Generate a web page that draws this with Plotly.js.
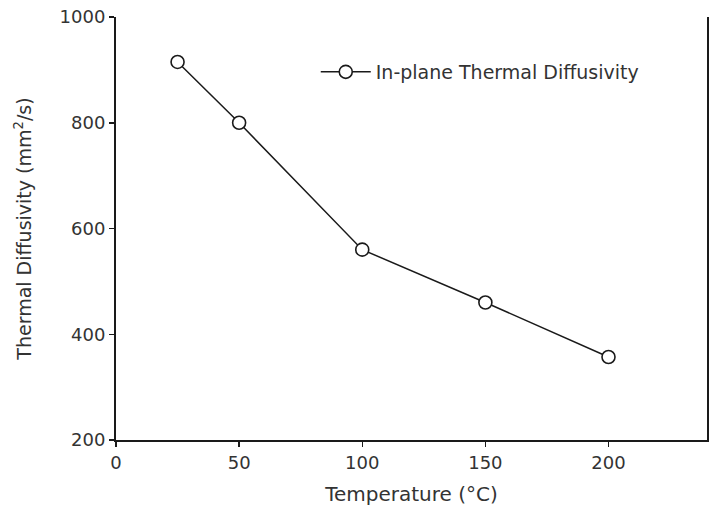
<!DOCTYPE html>
<html>
<head>
<meta charset="utf-8">
<script src="https://cdn.plot.ly/plotly-3.0.1.min.js"></script>
<style>html,body{margin:0;padding:0;background:#fff;}#chart{width:709px;height:512px;}</style>
</head>
<body>
<div id="chart"></div>
<script>
const temperature = [25, 50, 100, 150, 200];
const diffusivity = [915, 800, 560, 460, 357];
const seriesName = "In-plane Thermal Diffusivity";
const xTicks = [0, 50, 100, 150, 200];
const yTicks = [200, 400, 600, 800, 1000];

const trace = {
  x: temperature,
  y: diffusivity,
  name: seriesName,
  type: "scatter",
  mode: "lines+markers",
  line: {color: "#1a1a1a", width: 1.5},
  marker: {symbol: "circle", size: 13, color: "#ffffff", line: {color: "#1a1a1a", width: 1.6}},
  showlegend: true
};

const layout = {
  width: 709, height: 512,
  margin: {l: 116, r: 2, t: 17, b: 72, pad: 0},
  paper_bgcolor: "#ffffff", plot_bgcolor: "#ffffff",
  font: {family: "DejaVu Sans, Verdana, sans-serif", color: "#333333", size: 18},
  showlegend: true,
  legend: {x: 0.338, y: 0.87, xanchor: "left", yanchor: "middle", itemwidth: 50, bgcolor: "rgba(0,0,0,0)", font: {size: 19, color: "#333333"}},
  xaxis: {
    range: [0, 240], tickvals: xTicks, ticktext: xTicks.map(String),
    showgrid: false, zeroline: false, showline: true, linecolor: "#1a1a1a", linewidth: 2,
    ticks: "outside", ticklen: 5, tickwidth: 1.5, tickcolor: "#1a1a1a",
    tickfont: {size: 18},
    title: {text: "Temperature (°C)", font: {size: 20}, standoff: 15}
  },
  yaxis: {
    range: [200, 1000], tickvals: yTicks, ticktext: yTicks.map(String),
    showgrid: false, zeroline: false, showline: true, linecolor: "#1a1a1a", linewidth: 2, mirror: true,
    ticks: "outside", ticklen: 5, tickwidth: 1.5, tickcolor: "#1a1a1a",
    tickfont: {size: 18},
    title: {text: "Thermal Diffusivity (mm<sup>2</sup>/s)", font: {size: 19}, standoff: 23}
  }
};

Plotly.newPlot("chart", [trace], layout, {displayModeBar: false, staticPlot: true});
</script>
</body>
</html>
